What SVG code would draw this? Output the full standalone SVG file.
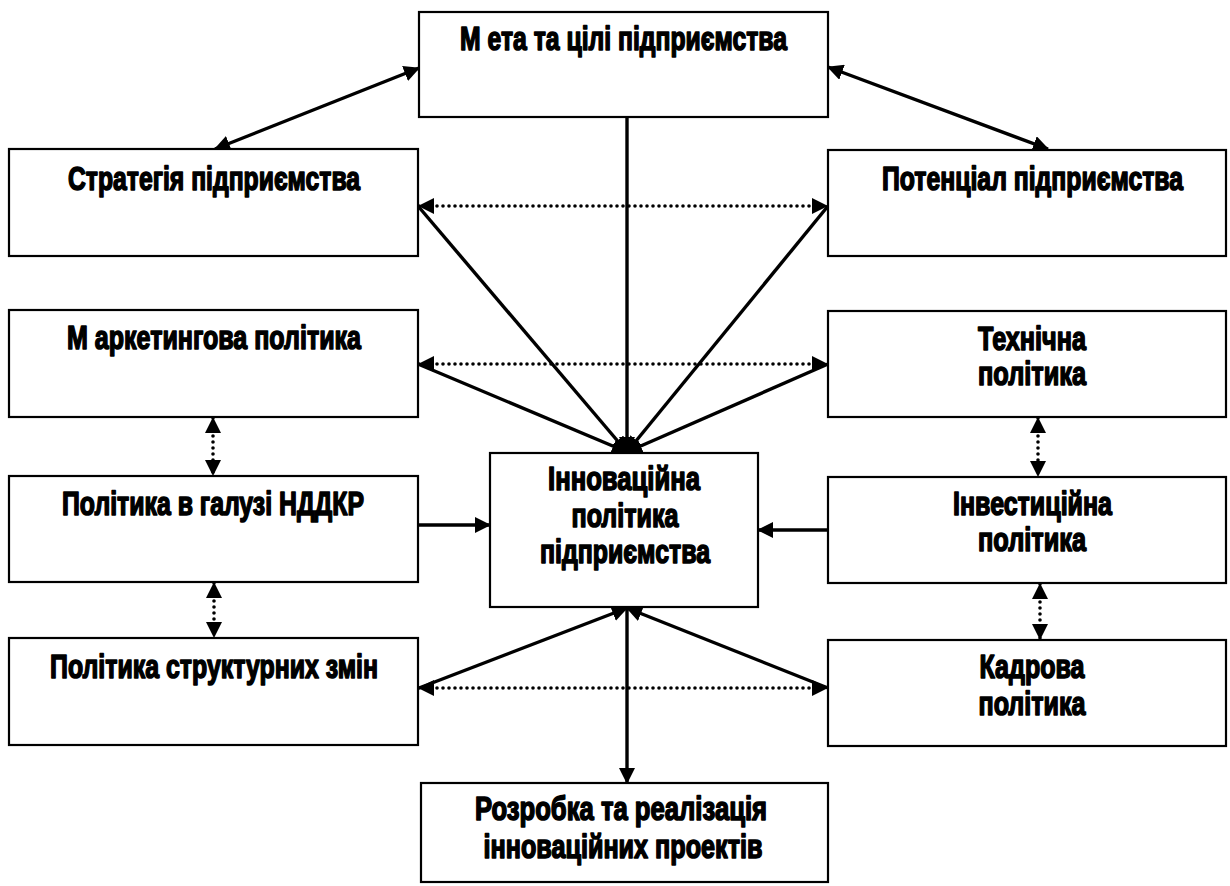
<svg xmlns="http://www.w3.org/2000/svg" width="1230" height="886" viewBox="0 0 1230 886">
<defs>
<marker id="ah" viewBox="0 0 16 16" refX="15" refY="8" markerWidth="16" markerHeight="16" markerUnits="userSpaceOnUse" orient="auto-start-reverse">
<path d="M0,0 L16,8 L0,16 z" fill="#000"/>
</marker>
<style>
.box{fill:#fff;stroke:#000;stroke-width:2.2}
.t{font-family:"Liberation Sans Narrow","Liberation Sans",Arial,sans-serif;font-weight:bold;font-size:33px;fill:#000;stroke:#000;stroke-width:1.6;stroke-linejoin:round;text-anchor:middle}
.s{stroke:#000;stroke-width:3.4;fill:none}
.d{stroke:#000;stroke-width:3.6;fill:none;stroke-dasharray:0 6;stroke-linecap:round}
</style>
</defs>
<rect width="1230" height="886" fill="#fff"/>
<g id="connectors">
<line class="s" x1="419" y1="68" x2="215" y2="149" marker-start="url(#ah)" marker-end="url(#ah)"/>
<line class="s" x1="828" y1="67" x2="1048" y2="149" marker-start="url(#ah)" marker-end="url(#ah)"/>
<line class="s" x1="627" y1="117" x2="627" y2="452" marker-end="url(#ah)"/>
<line class="s" x1="418" y1="206" x2="627" y2="452" marker-end="url(#ah)"/>
<line class="s" x1="828" y1="206" x2="627" y2="452" marker-end="url(#ah)"/>
<line class="s" x1="418" y1="364" x2="627" y2="452" marker-end="url(#ah)"/>
<line class="s" x1="828" y1="364" x2="627" y2="452" marker-end="url(#ah)"/>
<line class="d" x1="419" y1="206" x2="827" y2="206" marker-start="url(#ah)" marker-end="url(#ah)"/>
<line class="d" x1="419" y1="364" x2="827" y2="364" marker-start="url(#ah)" marker-end="url(#ah)"/>
<line class="d" x1="213" y1="418" x2="213" y2="475" marker-start="url(#ah)" marker-end="url(#ah)"/>
<line class="d" x1="214" y1="583" x2="214" y2="637" marker-start="url(#ah)" marker-end="url(#ah)"/>
<line class="d" x1="1038" y1="418" x2="1038" y2="476" marker-start="url(#ah)" marker-end="url(#ah)"/>
<line class="d" x1="1040" y1="584" x2="1040" y2="639" marker-start="url(#ah)" marker-end="url(#ah)"/>
<line class="s" x1="419" y1="525" x2="490" y2="525" marker-end="url(#ah)"/>
<line class="s" x1="828" y1="530" x2="758" y2="530" marker-end="url(#ah)"/>
<line class="s" x1="627" y1="608" x2="627" y2="783" marker-end="url(#ah)"/>
<line class="s" x1="419" y1="688" x2="627" y2="608" marker-end="url(#ah)"/>
<line class="s" x1="828" y1="688" x2="627" y2="608" marker-end="url(#ah)"/>
<line class="d" x1="419" y1="688" x2="827" y2="688" marker-start="url(#ah)" marker-end="url(#ah)"/>
</g>
<g id="n-meta">
<rect class="box" x="419" y="12" width="409" height="105"/>
<text class="t" transform="translate(623.5,50) scale(0.72,1)" textLength="454.2" lengthAdjust="spacingAndGlyphs">М ета та цілі підприємства</text>
</g>
<g id="n-strategy">
<rect class="box" x="9" y="149" width="409" height="107"/>
<text class="t" transform="translate(214,190) scale(0.72,1)" textLength="405.6" lengthAdjust="spacingAndGlyphs">Стратегія підприємства</text>
</g>
<g id="n-potential">
<rect class="box" x="828" y="150" width="398" height="106"/>
<text class="t" transform="translate(1032.5,190) scale(0.72,1)" textLength="418.1" lengthAdjust="spacingAndGlyphs">Потенціал підприємства</text>
</g>
<g id="n-marketing">
<rect class="box" x="9" y="310" width="409" height="107"/>
<text class="t" transform="translate(214,349) scale(0.72,1)" textLength="408.3" lengthAdjust="spacingAndGlyphs">М аркетингова політика</text>
</g>
<g id="n-technical">
<rect class="box" x="828" y="311" width="398" height="106"/>
<text class="t" transform="translate(1032,350) scale(0.72,1)" textLength="150" lengthAdjust="spacingAndGlyphs">Технічна</text>
<text class="t" transform="translate(1032,385) scale(0.72,1)" textLength="150" lengthAdjust="spacingAndGlyphs">політика</text>
</g>
<g id="n-nddkr">
<rect class="box" x="9" y="476" width="409" height="106"/>
<text class="t" transform="translate(213,515) scale(0.72,1)" textLength="419.4" lengthAdjust="spacingAndGlyphs">Політика в галузі НДДКР</text>
</g>
<g id="n-innovation">
<rect class="box" x="490" y="453" width="268" height="154"/>
<text class="t" transform="translate(624,490) scale(0.72,1)" textLength="211.1" lengthAdjust="spacingAndGlyphs">Інноваційна</text>
<text class="t" transform="translate(625,527) scale(0.72,1)" textLength="148.6" lengthAdjust="spacingAndGlyphs">політика</text>
<text class="t" transform="translate(625,563) scale(0.72,1)" textLength="236.1" lengthAdjust="spacingAndGlyphs">підприємства</text>
</g>
<g id="n-investment">
<rect class="box" x="828" y="477" width="398" height="106"/>
<text class="t" transform="translate(1032.5,515) scale(0.72,1)" textLength="220.8" lengthAdjust="spacingAndGlyphs">Інвестиційна</text>
<text class="t" transform="translate(1032,551) scale(0.72,1)" textLength="150" lengthAdjust="spacingAndGlyphs">політика</text>
</g>
<g id="n-structural">
<rect class="box" x="9" y="638" width="409" height="107"/>
<text class="t" transform="translate(214,678) scale(0.72,1)" textLength="455.6" lengthAdjust="spacingAndGlyphs">Політика структурних змін</text>
</g>
<g id="n-personnel">
<rect class="box" x="828" y="640" width="398" height="106"/>
<text class="t" transform="translate(1032,678) scale(0.72,1)" textLength="145.8" lengthAdjust="spacingAndGlyphs">Кадрова</text>
<text class="t" transform="translate(1032,715) scale(0.72,1)" textLength="148.6" lengthAdjust="spacingAndGlyphs">політика</text>
</g>
<g id="n-projects">
<rect class="box" x="421" y="783" width="407" height="99"/>
<text class="t" transform="translate(621,820) scale(0.72,1)" textLength="405.6" lengthAdjust="spacingAndGlyphs">Розробка та реалізація</text>
<text class="t" transform="translate(623,858) scale(0.72,1)" textLength="387.5" lengthAdjust="spacingAndGlyphs">інноваційних проектів</text>
</g>
</svg>
